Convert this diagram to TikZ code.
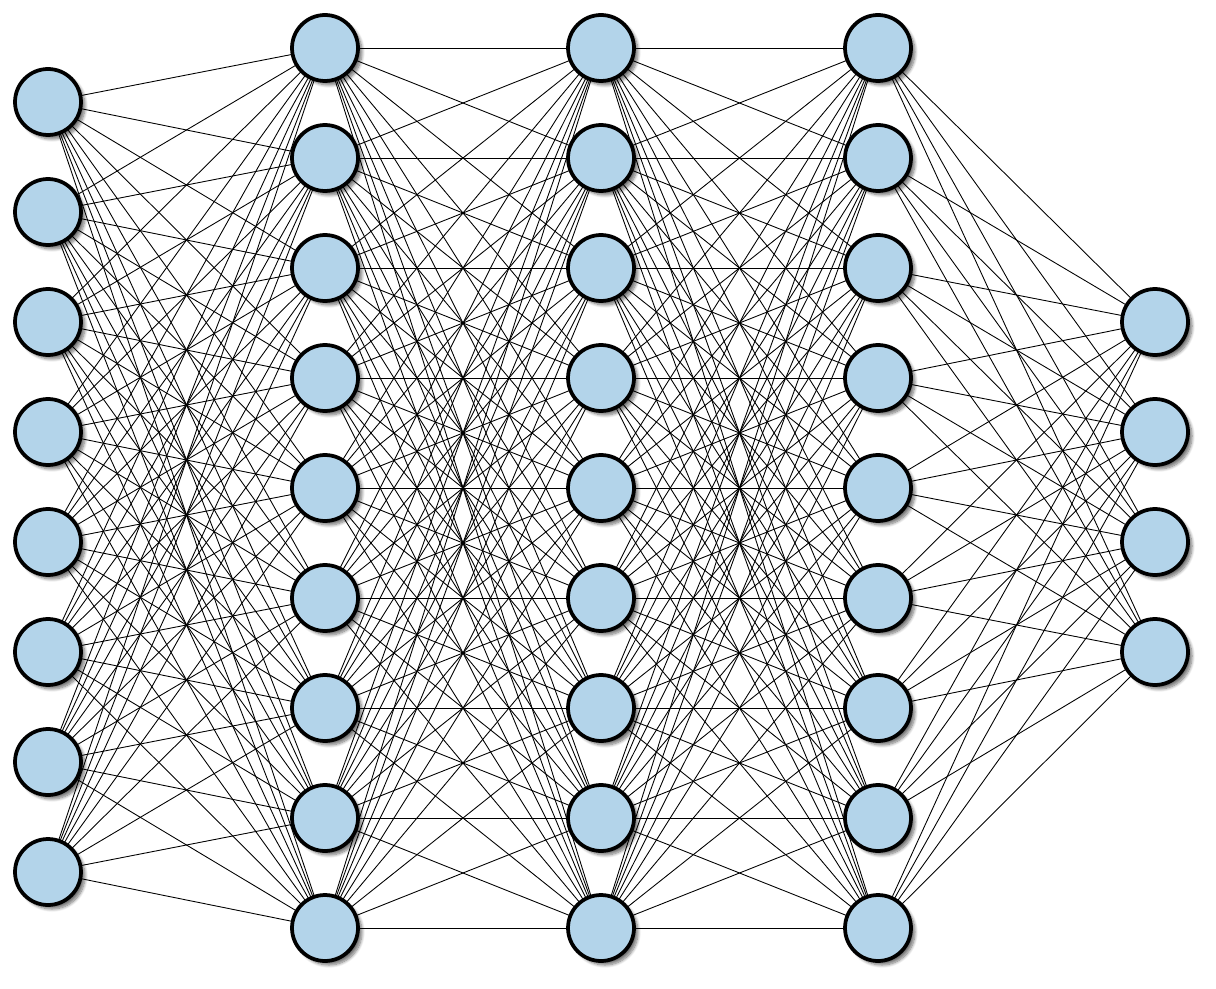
\documentclass[tikz,border=0pt]{standalone}
\usetikzlibrary{shadows.blur}
\definecolor{nodeblue}{RGB}{179,212,234}
\pgfdeclarelayer{bg}
\pgfsetlayers{bg,main}
\begin{document}
\begin{tikzpicture}[x=0.02cm,y=-0.02cm,
  neuron/.style={circle,draw=black,line width=0.075cm,fill=nodeblue,minimum size=1.32cm,inner sep=0pt,
    blur shadow={shadow xshift=0.08cm,shadow yshift=-0.08cm,shadow blur steps=8,shadow opacity=55}},
  link/.style={line width=0.5pt,black}]
\useasboundingbox (0,0) rectangle (1216,989);
% nodes
\foreach \i in {1,...,8} \node[neuron] (a\i) at (48,{102+110*(\i-1)}) {};
\foreach \i in {1,...,9} {
  \node[neuron] (b\i) at (325,{48+110*(\i-1)}) {};
  \node[neuron] (c\i) at (601,{48+110*(\i-1)}) {};
  \node[neuron] (d\i) at (878,{48+110*(\i-1)}) {};
}
\foreach \i in {1,...,4} \node[neuron] (e\i) at (1155,{322+110*(\i-1)}) {};
% links behind nodes
\begin{pgfonlayer}{bg}
\foreach \i in {1,...,8} \foreach \j in {1,...,9} \draw[link] (a\i.center) -- (b\j.center);
\foreach \i in {1,...,9} \foreach \j in {1,...,9} {
  \draw[link] (b\i.center) -- (c\j.center);
  \draw[link] (c\i.center) -- (d\j.center);
}
\foreach \i in {1,...,9} \foreach \j in {1,...,4} \draw[link] (d\i.center) -- (e\j.center);
\end{pgfonlayer}
\end{tikzpicture}
\end{document}
